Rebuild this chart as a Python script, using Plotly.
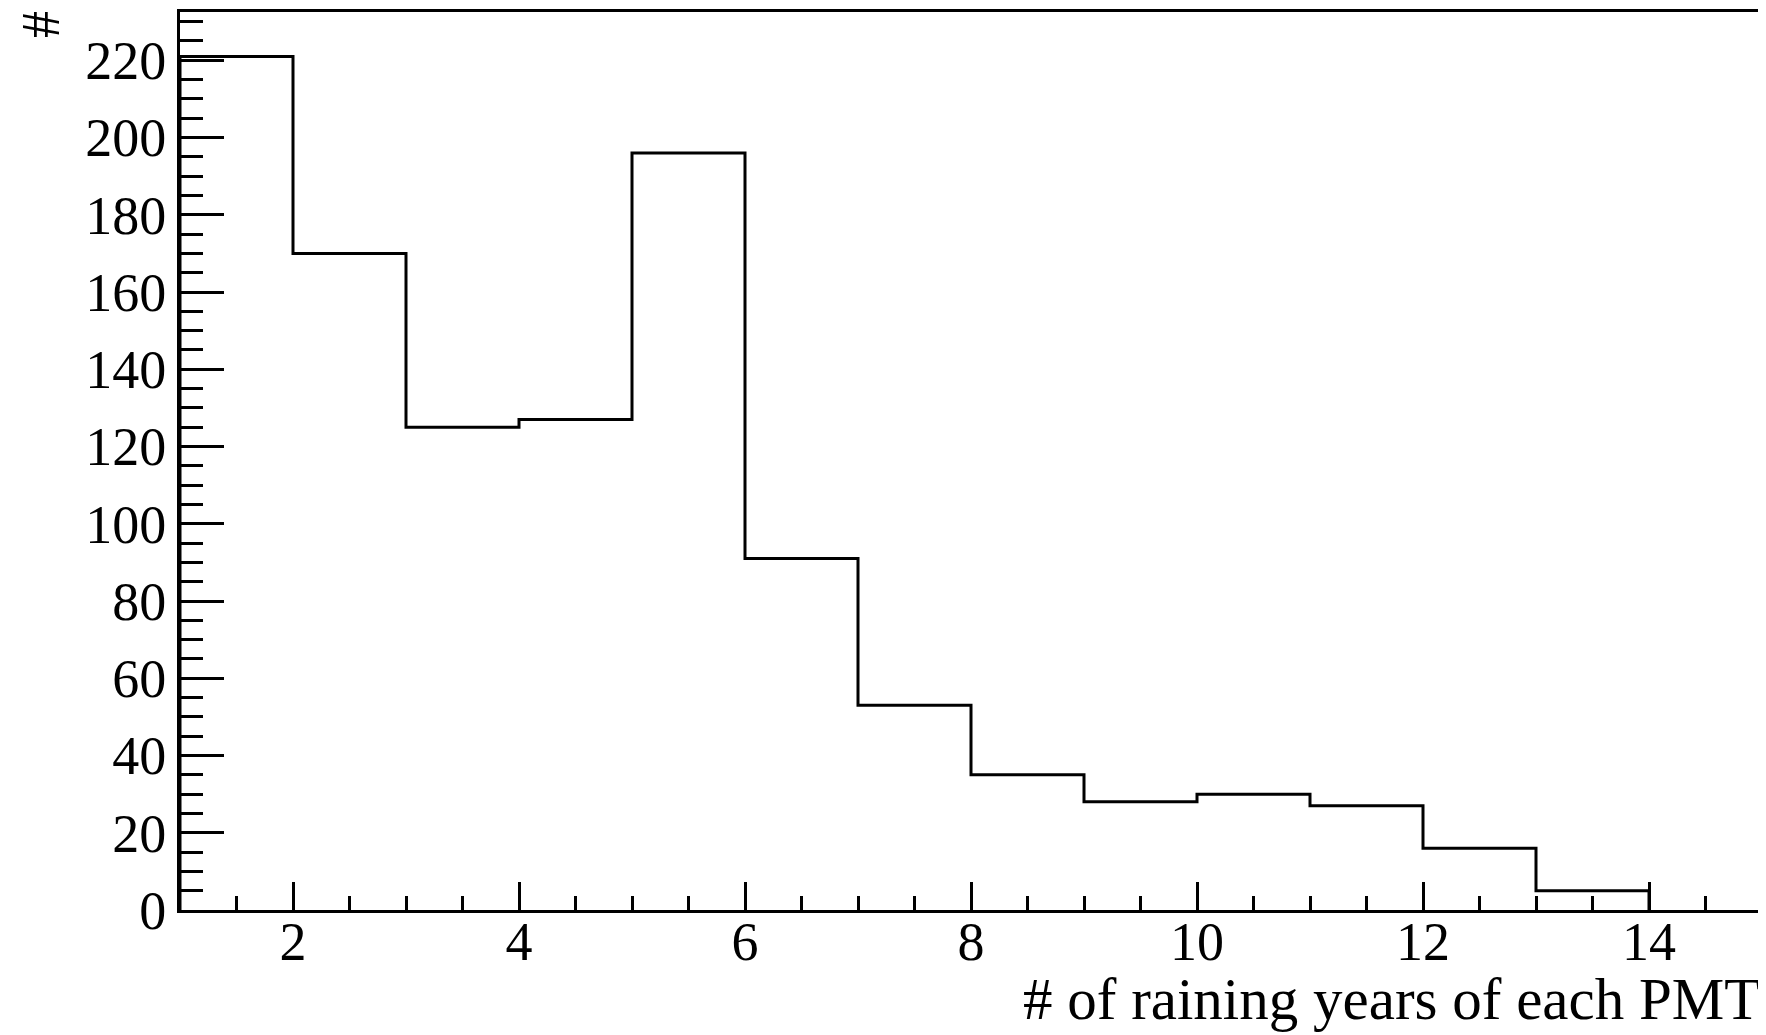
import plotly.graph_objects as go

# Histogram data: bins of width 1 from 1 to 14
bin_edges = [1, 2, 3, 4, 5, 6, 7, 8, 9, 10, 11, 12, 13, 14]
counts = [221, 170, 125, 127, 196, 91, 53, 35, 28, 30, 27, 16, 5]
x_tickvals = [2, 4, 6, 8, 10, 12, 14]
y_tickvals = [0, 20, 40, 60, 80, 100, 120, 140, 160, 180, 200, 220]
x_title = "# of raining years of each PMT"
y_title = "#"

FONT = "Liberation Serif, Times New Roman, serif"

xs = [bin_edges[0]] + bin_edges
ys = [0] + counts + [0]

fig = go.Figure()
fig.add_trace(go.Scatter(
    x=xs, y=ys, mode="lines", line=dict(shape="hv", color="black", width=3),
    showlegend=False, hoverinfo="skip"))

fig.update_layout(
    width=1758, height=1027,
    margin=dict(l=172, r=4, t=4, b=125),
    paper_bgcolor="white", plot_bgcolor="white",
    font=dict(family=FONT, size=54, color="black"),
    xaxis=dict(range=[1, 15], tickvals=x_tickvals, ticks="inside", ticklen=28,
               tickwidth=2.5, tickcolor="black", showline=True, linecolor="black",
               linewidth=3, mirror=True, showgrid=False, zeroline=False,
               automargin=False, ticklabelstandoff=-18,
               tickfont=dict(family=FONT, size=54),
               minor=dict(dtick=0.5, tick0=1, ticks="inside", ticklen=14,
                          tickwidth=2.5, tickcolor="black", showgrid=False)),
    yaxis=dict(range=[0, 232.5], tickvals=y_tickvals, ticks="inside", ticklen=44,
               tickwidth=2.5, tickcolor="black", showline=True, linecolor="black",
               linewidth=3, mirror=True, showgrid=False, zeroline=False,
               automargin=False,
               tickfont=dict(family=FONT, size=54),
               minor=dict(dtick=5, tick0=0, ticks="inside", ticklen=23,
                          tickwidth=2.5, tickcolor="black", showgrid=False)),
)

fig.add_annotation(text=x_title, xref="paper", yref="paper", x=1, y=-0.099,
                   xanchor="right", yanchor="middle", showarrow=False,
                   font=dict(family=FONT, size=59, color="black"))
fig.add_annotation(text=y_title, xref="paper", yref="paper", x=-0.0878, y=1.003,
                   xanchor="center", yanchor="top", textangle=-90, showarrow=False,
                   font=dict(family=FONT, size=54, color="black"))

fig.write_html("out.html")
